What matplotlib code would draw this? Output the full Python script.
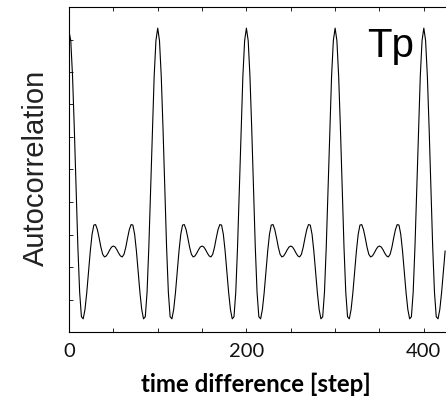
import matplotlib
matplotlib.use("Agg")
import matplotlib.pyplot as plt
from matplotlib.ticker import MultipleLocator, FixedLocator, NullFormatter

# lag axis (steps)
lags = list(range(0, 426, 2))

# autocorrelation values (one row per period of 100 steps)
acf = (
    [0.850, 0.793, 0.573, 0.249, -0.122, -0.477, -0.755, -0.906, -0.919, -0.862,
     -0.759, -0.631, -0.502, -0.399, -0.342, -0.339, -0.370, -0.422, -0.479, -0.522,
     -0.538, -0.532, -0.515, -0.494, -0.477, -0.471, -0.477, -0.494, -0.515, -0.532,
     -0.538, -0.522, -0.479, -0.422, -0.370, -0.339, -0.342, -0.399, -0.502, -0.631,
     -0.759, -0.862, -0.919, -0.906, -0.755, -0.477, -0.122, 0.249, 0.573, 0.793]
    + [0.870, 0.793, 0.573, 0.249, -0.122, -0.477, -0.755, -0.906, -0.919, -0.862,
       -0.759, -0.631, -0.502, -0.399, -0.342, -0.339, -0.370, -0.422, -0.479, -0.522,
       -0.538, -0.532, -0.515, -0.494, -0.477, -0.471, -0.477, -0.494, -0.515, -0.532,
       -0.538, -0.522, -0.479, -0.422, -0.370, -0.339, -0.342, -0.399, -0.502, -0.631,
       -0.759, -0.862, -0.919, -0.906, -0.755, -0.477, -0.122, 0.249, 0.573, 0.793]
    + [0.870, 0.793, 0.573, 0.249, -0.122, -0.477, -0.755, -0.906, -0.919, -0.862,
       -0.759, -0.631, -0.502, -0.399, -0.342, -0.339, -0.370, -0.422, -0.479, -0.522,
       -0.538, -0.532, -0.515, -0.494, -0.477, -0.471, -0.477, -0.494, -0.515, -0.532,
       -0.538, -0.522, -0.479, -0.422, -0.370, -0.339, -0.342, -0.399, -0.502, -0.631,
       -0.759, -0.862, -0.919, -0.906, -0.755, -0.477, -0.122, 0.249, 0.573, 0.793]
    + [0.870, 0.793, 0.573, 0.249, -0.122, -0.477, -0.755, -0.906, -0.919, -0.862,
       -0.759, -0.631, -0.502, -0.399, -0.342, -0.339, -0.370, -0.422, -0.479, -0.522,
       -0.538, -0.532, -0.515, -0.494, -0.477, -0.471, -0.477, -0.494, -0.515, -0.532,
       -0.538, -0.522, -0.479, -0.422, -0.370, -0.339, -0.342, -0.399, -0.502, -0.631,
       -0.759, -0.862, -0.919, -0.906, -0.755, -0.477, -0.122, 0.249, 0.573, 0.793]
    + [0.870, 0.793, 0.573, 0.249, -0.122, -0.477, -0.755, -0.906, -0.919, -0.862,
       -0.759, -0.631, -0.502]
)

xtick_major = [0, 200, 400]
xtick_labels = ["0", "200", "400"]
xlabel = "time difference [step]"
ylabel = "Autocorrelation"
panel_label = "Tp"

W, H = 446, 400
fig = plt.figure(figsize=(W / 100, H / 100), dpi=100)
ax = fig.add_axes([69 / W, 1 - 332 / H, 377 / W, 325 / H])

ax.plot(lags, acf, color="black", lw=0.8)

ax.set_xlim(0, 425)
ax.set_ylim(-1, 1)

ax.xaxis.set_major_locator(FixedLocator(xtick_major))
ax.set_xticklabels(xtick_labels, family="Lato", fontsize=14.5, color="#111111")
ax.xaxis.set_minor_locator(MultipleLocator(50))
ax.yaxis.set_major_locator(MultipleLocator(0.2))
ax.yaxis.set_major_formatter(NullFormatter())

ax.tick_params(axis="both", which="both", direction="in", length=2.6, width=0.6,
               top=True, bottom=True, left=True, right=False)
ax.tick_params(axis="x", which="major", pad=8)

for s in ["left", "bottom", "top"]:
    ax.spines[s].set_linewidth(0.8)
ax.spines["right"].set_visible(False)

fig.text(256 / W, 1 - 392 / H, xlabel, ha="center", va="baseline",
         family="Lato", fontweight="bold", fontsize=17.3)
fig.text(36 / W, 1 - 168 / H, ylabel, ha="center", va="center", rotation=90,
         family="Liberation Sans", fontsize=21, color="#222222")
fig.text(367 / W, 1 - 57 / H, panel_label, ha="left", va="baseline",
         family="Liberation Sans", fontsize=29)

fig.savefig("out.png", dpi=100)
